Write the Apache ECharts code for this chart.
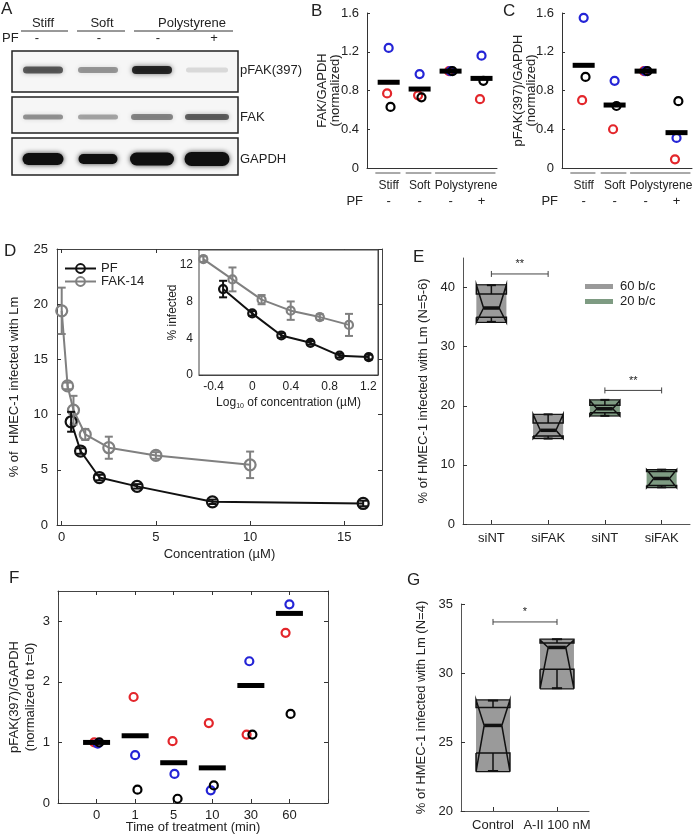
<!DOCTYPE html>
<html>
<head>
<meta charset="utf-8">
<script src="https://cdn.jsdelivr.net/npm/echarts@6/dist/echarts.min.js"></script>
<style>
html, body { margin: 0; padding: 0; background: #fff; }
#fig { width: 700px; height: 836px; }
</style>
</head>
<body>
<div id="fig"></div>
<script>
// ---------- data ----------
// A: western blot, band darkness per lane (0..1)
const blotLanes = ['Stiff', 'Soft', 'Polystyrene']
const pfSign = ['-', '-', '-', '+']
const pfakBand = [0.62, 0.38, 0.85, 0.12]
const fakBand = [0.4, 0.33, 0.45, 0.6]
const gapdhBand = [1, 1, 1, 1]

// B / C: group columns
const groupCols = [1, 2, 3, 4]
const groupNames = ['Stiff', 'Soft', 'Polystyrene']
const groupFrom = [0.57, 1.55, 2.5]
const groupTo = [1.38, 2.38, 4.45]
const groupCenter = [1, 2, 3.5]

const bRed = [0.77, 0.75, 1.0, 0.71]
const bBlue = [1.24, 0.97, 1.0, 1.16]
const bBlack = [0.63, 0.73, 1.0, 0.9]
const bMean = [0.885, 0.815, 1.0, 0.925]

const cRed = [0.70, 0.40, 1.0, 0.09]
const cBlue = [1.55, 0.90, 1.0, 0.31]
const cBlack = [0.94, 0.64, 1.0, 0.69]
const cMean = [1.06, 0.65, 1.0, 0.365]

// D: dose response
const pfConc = [0.5, 1, 2, 4, 8, 16]
const pfInf = [9.35, 6.7, 4.3, 3.5, 2.1, 1.95]
const pfErr = [0.9, 0.25, 0.25, 0.2, 0.2, 0.25]
const fak14Conc = [0, 0.3125, 0.625, 1.25, 2.5, 5, 10]
const fak14Inf = [19.4, 12.6, 10.4, 8.2, 7.0, 6.3, 5.45]
const fak14Err = [2.1, 0.3, 1.3, 0.5, 1.0, 0.3, 1.2]
const dTicks = [0, 5, 10, 15]
const insetTicks = [-0.4, 0, 0.4, 0.8, 1.2]

// E: notched boxes
const eCats = ['siNT', 'siFAK', 'siNT', 'siFAK']
const eWhiskLo = [34.2, 14.45, 18.3, 6.2]
const eNotchLo = [34.1, 14.45, 18.27, 6.15]
const eQ1 = [34.96, 14.9, 18.84, 6.5]
const eMedian = [36.54, 15.85, 19.5, 7.7]
const eQ3 = [38.9, 17.08, 20.07, 8.9]
const eNotchHi = [40.47, 18.55, 20.9, 9.2]
const eWhiskHi = [40.4, 18.55, 21.0, 9.2]
const eBrFrom = [0, 2]
const eBrTo = [1, 3]
const eBrY = [42.3, 22.6]
const eBrText = ['**', '**']

// F: time course
const fTimes = ['0', '1', '5', '10', '30', '60']
const fRed = [1.0, 1.75, 1.02, 1.32, 1.13, 2.81]
const fBlue = [0.98, 0.79, 0.48, 0.21, 2.34, 3.28]
const fBlack = [1.0, 0.22, 0.07, 0.29, 1.13, 1.47]
const fMean = [1.0, 1.11, 0.665, 0.58, 1.94, 3.13]
const fRedDx = [-0.06, -0.04, -0.03, -0.09, -0.11, -0.1]
const fBlueDx = [0.03, 0, 0.02, -0.04, -0.04, 0]
const fBlackDx = [0.07, 0.06, 0.1, 0.04, 0.04, 0.03]

// G: notched boxes
const gCats = ['Control', 'A-II 100 nM']
const gWhiskLo = [22.9, 28.9]
const gNotchLo = [22.85, 28.85]
const gQ1 = [24.2, 30.28]
const gMedian = [26.2, 31.85]
const gQ3 = [27.5, 32.17]
const gNotchHi = [28.05, 32.4]
const gWhiskHi = [28.0, 32.45]
const gBrFrom = [0]
const gBrTo = [1]
const gBrY = [33.7]
const gBrText = ['*']

// ---------- styles ----------
const ink = '#222'
const font = 'Liberation Sans, Arial, sans-serif'
const red = '#e3262b'
const blue = '#2424d6'
const gray = '#808080'

const chart = echarts.init(document.getElementById('fig'))

function tickStyle(extra) {
  return Object.assign({ show: true, inside: true, length: 4, lineStyle: { color: '#333' } }, extra || {})
}
function lineAxis(c) {
  return { show: true, onZero: false, lineStyle: { color: c || '#333', width: 1 } }
}
function lbl(extra) {
  return Object.assign({ color: ink, fontSize: 13, fontFamily: font }, extra || {})
}
function dec1(v) { return v === 0 ? '0' : v.toFixed(1) }

function openDots(name, xs, ys, dx, color, xi, yi, size) {
  return {
    type: 'scatter', name, xAxisIndex: xi, yAxisIndex: yi,
    symbol: 'circle', symbolSize: size, z: 2,
    itemStyle: { color: 'rgba(0,0,0,0)', borderColor: color, borderWidth: 2.2, opacity: 1 },
    data: xs.map((x, i) => [x + (Array.isArray(dx) ? dx[i] : dx), ys[i]])
  }
}
function meanBars(xs, ys, xi, yi, w) {
  return {
    type: 'scatter', xAxisIndex: xi, yAxisIndex: yi, symbol: 'rect',
    symbolSize: [w, 5], z: 4, itemStyle: { color: '#000', opacity: 1 },
    data: xs.map((x, i) => [x, ys[i]])
  }
}

function renderErr(params, api) {
  const x = api.value(0), y = api.value(1), e = api.value(2)
  const a = api.coord([x, y + e]), b = api.coord([x, y - e])
  const h = 4
  const s = { stroke: api.visual('color'), lineWidth: 2 }
  return {
    type: 'group', children: [
      { type: 'line', shape: { x1: a[0], y1: a[1], x2: b[0], y2: b[1] }, style: s },
      { type: 'line', shape: { x1: a[0] - h, y1: a[1], x2: a[0] + h, y2: a[1] }, style: s },
      { type: 'line', shape: { x1: b[0] - h, y1: b[1], x2: b[0] + h, y2: b[1] }, style: s }
    ]
  }
}
function errSeries(xs, ys, es, color, xi, yi) {
  return {
    type: 'custom', xAxisIndex: xi, yAxisIndex: yi, z: 3,
    itemStyle: { color }, renderItem: renderErr,
    data: xs.map((x, i) => [x, ys[i], es[i]])
  }
}
function doseLine(name, xs, ys, color, xi, yi, size) {
  return {
    type: 'line', name, xAxisIndex: xi, yAxisIndex: yi,
    symbol: 'circle', symbolSize: size, z: 2, color,
    lineStyle: { color, width: 2 },
    itemStyle: { color: 'rgba(0,0,0,0)', borderColor: color, borderWidth: 2.2 },
    data: xs.map((x, i) => [x, ys[i]])
  }
}

function renderBox(params, api) {
  const i = api.value(0)
  const y = k => api.coord([i, api.value(k)])[1]
  const c = api.coord([i, api.value(4)])[0]
  const w = api.size([1, 0])[0] * 0.53
  const L = c - w / 2, R = c + w / 2, n = w * 0.24
  const wlo = y(1), nlo = y(2), q1 = y(3), med = y(4), q3 = y(5), nhi = y(6), whi = y(7)
  const top = Math.min(nhi, q3, whi), bot = Math.max(nlo, q1, wlo)
  const ln = (x1, y1, x2, y2, lw) => ({ type: 'line', shape: { x1, y1, x2, y2 }, style: { stroke: '#111', lineWidth: lw || 1.5 } })
  const cap = w * 0.15
  return {
    type: 'group', children: [
      { type: 'rect', shape: { x: L, y: top, width: w, height: bot - top }, style: { fill: api.visual('color') } },
      {
        type: 'polyline',
        shape: { points: [[L, q1], [L, nlo], [L + n, med], [L, nhi], [L, q3], [R, q3], [R, nhi], [R - n, med], [R, nlo], [R, q1], [L, q1]] },
        style: { stroke: '#111', lineWidth: 1.5, fill: null }
      },
      ln(L, top, R, top, 1.2), ln(L, bot, R, bot, 1.2),
      ln(L + n, med, R - n, med, 3.5),
      ln(c, q3, c, whi, 1.5), ln(c - cap, whi, c + cap, whi, 2),
      ln(c, q1, c, wlo, 1.5), ln(c - cap, wlo, c + cap, wlo, 2)
    ]
  }
}
function boxSeries(name, idx, lo, nlo, q1, med, q3, nhi, hi, color, xi, yi) {
  return {
    type: 'custom', name, xAxisIndex: xi, yAxisIndex: yi, z: 2,
    itemStyle: { color }, renderItem: renderBox,
    data: idx.map(i => [i, lo[i], nlo[i], q1[i], med[i], q3[i], nhi[i], hi[i]])
  }
}
function renderBracket(labels) {
  return function (params, api) {
    const a = api.coord([api.value(0), api.value(2)])
    const b = api.coord([api.value(1), api.value(2)])
    const s = { stroke: '#444', lineWidth: 1 }
    return {
      type: 'group', children: [
        { type: 'line', shape: { x1: a[0], y1: a[1], x2: b[0], y2: b[1] }, style: s },
        { type: 'line', shape: { x1: a[0], y1: a[1] - 3, x2: a[0], y2: a[1] + 3 }, style: s },
        { type: 'line', shape: { x1: b[0], y1: b[1] - 3, x2: b[0], y2: b[1] + 3 }, style: s },
        { type: 'text', x: (a[0] + b[0]) / 2, y: a[1] - 4, style: { text: labels[params.dataIndex], fill: ink, font: '11px ' + font, align: 'center', verticalAlign: 'bottom' } }
      ]
    }
  }
}
function bracketSeries(from, to, ys, labels, xi, yi) {
  return {
    type: 'custom', xAxisIndex: xi, yAxisIndex: yi, z: 3, renderItem: renderBracket(labels),
    data: from.map((f, i) => [f, to[i], ys[i]])
  }
}

const gridBase = { containLabel: false, outerBoundsMode: 'none' }
const grids = [
  Object.assign({ left: 367, top: 13, width: 130, height: 155 }, gridBase),   // B
  Object.assign({ left: 562, top: 13, width: 130, height: 155 }, gridBase),   // C
  Object.assign({ left: 57, top: 249, width: 325, height: 276 }, gridBase),   // D
  Object.assign({ left: 199, top: 250, width: 179, height: 125, show: true, backgroundColor: '#fff', borderColor: '#444', borderWidth: 1, z: 5 }, gridBase), // inset
  Object.assign({ left: 463, top: 258, width: 227, height: 266 }, gridBase),  // E
  Object.assign({ left: 58, top: 591, width: 270, height: 212 }, gridBase),   // F
  Object.assign({ left: 461, top: 604, width: 128, height: 207 }, gridBase)   // G
]

const nameStyle = (size, lh) => ({ color: ink, fontSize: size, fontFamily: font, lineHeight: lh })
const noLabel = { show: false }
const noSplit = { show: false }
function yName(text, gap, size, lh) {
  return { name: text, nameLocation: 'middle', nameRotate: 90, nameGap: gap, nameMoveOverlap: false, nameTextStyle: nameStyle(size, lh) }
}

const xAxes = [
  { gridIndex: 0, type: 'value', min: 0.3, max: 4.5, axisLine: lineAxis(), axisTick: { show: false }, axisLabel: noLabel, splitLine: noSplit },
  { gridIndex: 1, type: 'value', min: 0.3, max: 4.5, axisLine: lineAxis(), axisTick: { show: false }, axisLabel: noLabel, splitLine: noSplit },
  {
    gridIndex: 2, type: 'value', min: -0.25, max: 17, axisLine: lineAxis('#444'),
    axisTick: tickStyle({ customValues: dTicks }),
    axisLabel: lbl({ customValues: dTicks, margin: 6 }),
    splitLine: noSplit,
    name: 'Concentration (µM)', nameLocation: 'middle', nameGap: 23, nameMoveOverlap: false, nameTextStyle: nameStyle(13)
  },
  { gridIndex: 2, type: 'value', position: 'top', min: -0.25, max: 17, axisLine: lineAxis('#444'), axisTick: tickStyle({ customValues: dTicks }), axisLabel: noLabel, splitLine: noSplit },
  {
    gridIndex: 3, type: 'value', min: -0.55, max: 1.3, axisLine: lineAxis('#444'),
    axisTick: tickStyle({ customValues: insetTicks }),
    axisLabel: lbl({ fontSize: 12, margin: 6, customValues: insetTicks, formatter: dec1 }),
    splitLine: noSplit,
    name: 'Log{sub|10} of concentration (µM)', nameLocation: 'middle', nameGap: 21, nameMoveOverlap: false,
    nameTextStyle: { color: ink, fontSize: 12, fontFamily: font, lineHeight: 14, rich: { sub: { fontSize: 7, fontFamily: font, color: ink, lineHeight: 14, verticalAlign: 'bottom', padding: [5, 0, 0, 0] } } }
  },
  { gridIndex: 3, type: 'value', position: 'top', min: -0.55, max: 1.3, axisLine: lineAxis('#444'), axisTick: tickStyle({ customValues: insetTicks }), axisLabel: noLabel, splitLine: noSplit },
  {
    gridIndex: 4, type: 'category', data: eCats, axisLine: lineAxis('#555'),
    axisTick: tickStyle({ alignWithLabel: true }), axisLabel: lbl({ margin: 8, interval: 0 }), splitLine: noSplit
  },
  {
    gridIndex: 5, type: 'value', min: 0, max: 7, interval: 1, axisLine: lineAxis('#444'),
    axisTick: tickStyle(), axisLabel: lbl({ margin: 6, formatter: v => fTimes[Math.round(v) - 1] || '' }),
    splitLine: noSplit,
    name: 'Time of treatment (min)', nameLocation: 'middle', nameGap: 18, nameMoveOverlap: false, nameTextStyle: nameStyle(13)
  },
  { gridIndex: 5, type: 'value', position: 'top', min: 0, max: 7, interval: 1, axisLine: lineAxis('#444'), axisTick: tickStyle(), axisLabel: noLabel, splitLine: noSplit },
  {
    gridIndex: 6, type: 'category', data: gCats, axisLine: lineAxis('#555'),
    axisTick: tickStyle({ alignWithLabel: true }), axisLabel: lbl({ margin: 8, interval: 0 }), splitLine: noSplit
  }
]

const yAxes = [
  Object.assign({
    gridIndex: 0, type: 'value', min: 0, max: 1.6, interval: 0.4, axisLine: lineAxis(), axisTick: tickStyle({ length: 3 }),
    axisLabel: lbl({ formatter: dec1 }), splitLine: noSplit
  }, yName('FAK/GAPDH\n(normalized)', 25, 13, 13)),
  Object.assign({
    gridIndex: 1, type: 'value', min: 0, max: 1.6, interval: 0.4, axisLine: lineAxis(), axisTick: tickStyle({ length: 3 }),
    axisLabel: lbl({ formatter: dec1 }), splitLine: noSplit
  }, yName('pFAK(397)/GAPDH\n(normalized)', 24, 13, 13)),
  Object.assign({
    gridIndex: 2, type: 'value', min: 0, max: 25, interval: 5, axisLine: lineAxis('#444'), axisTick: tickStyle(),
    axisLabel: lbl({ margin: 9 }), splitLine: noSplit
  }, yName('% of  HMEC-1 infected with Lm', 36, 13)),
  { gridIndex: 2, type: 'value', position: 'right', min: 0, max: 25, interval: 5, axisLine: lineAxis('#444'), axisTick: tickStyle(), axisLabel: noLabel, splitLine: noSplit },
  Object.assign({
    gridIndex: 3, type: 'value', min: 0, max: 13.6, interval: 4, axisLine: lineAxis('#444'), axisTick: tickStyle(),
    axisLabel: lbl({ fontSize: 12, margin: 6, showMaxLabel: false }), splitLine: noSplit
  }, yName('% infected', 20, 12)),
  { gridIndex: 3, type: 'value', position: 'right', min: 0, max: 13.6, interval: 4, axisLine: lineAxis('#444'), axisTick: tickStyle(), axisLabel: noLabel, splitLine: noSplit },
  Object.assign({
    gridIndex: 4, type: 'value', min: 0, max: 45, interval: 10, axisLine: lineAxis('#555'), axisTick: tickStyle(),
    axisLabel: lbl({ showMaxLabel: false }), splitLine: noSplit
  }, yName('% of HMEC-1 infected with Lm (N=5-6)', 33, 13)),
  Object.assign({
    gridIndex: 5, type: 'value', min: 0, max: 3.5, interval: 1, axisLine: lineAxis('#444'), axisTick: tickStyle(),
    axisLabel: lbl({ showMaxLabel: false }), splitLine: noSplit
  }, yName('pFAK(397)/GAPDH\n(normalized to t=0)', 20, 13, 16)),
  { gridIndex: 5, type: 'value', position: 'right', min: 0, max: 3.5, interval: 1, axisLine: lineAxis('#444'), axisTick: tickStyle(), axisLabel: noLabel, splitLine: noSplit },
  Object.assign({
    gridIndex: 6, type: 'value', min: 20, max: 35, interval: 5, axisLine: lineAxis('#555'), axisTick: tickStyle(),
    axisLabel: lbl(), splitLine: noSplit
  }, yName('% of HMEC-1 infected with Lm (N=4)', 33, 13))
]

const fCols = fTimes.map((t, i) => i + 1)
const insetPf = pfConc.map(Math.log10)
const fakPos = fak14Conc.filter(c => c > 0)
const insetFak = fakPos.map(Math.log10)
const insetFakInf = fak14Inf.filter((v, i) => fak14Conc[i] > 0)
const insetFakErr = fak14Err.filter((v, i) => fak14Conc[i] > 0)

const series = [
  // B
  openDots('r', groupCols, bRed, -0.05, red, 0, 0, 8),
  openDots('b', groupCols, bBlue, 0, blue, 0, 0, 8),
  openDots('k', groupCols, bBlack, 0.06, '#000', 0, 0, 8),
  meanBars(groupCols, bMean, 0, 0, 22),
  // C
  openDots('r', groupCols, cRed, -0.05, red, 1, 1, 8),
  openDots('b', groupCols, cBlue, 0, blue, 1, 1, 8),
  openDots('k', groupCols, cBlack, 0.06, '#000', 1, 1, 8),
  meanBars(groupCols, cMean, 1, 1, 22),
  // D main
  doseLine('FAK-14', fak14Conc, fak14Inf, gray, 2, 2, 11),
  errSeries(fak14Conc, fak14Inf, fak14Err, gray, 2, 2),
  doseLine('PF', pfConc, pfInf, '#111', 2, 2, 11),
  errSeries(pfConc, pfInf, pfErr, '#111', 2, 2),
  // D inset
  Object.assign(doseLine('FAK-14', insetFak, insetFakInf, gray, 4, 4, 8), { z: 6 }),
  Object.assign(errSeries(insetFak, insetFakInf, insetFakErr, gray, 4, 4), { z: 7 }),
  Object.assign(doseLine('PF', insetPf, pfInf, '#111', 4, 4, 8), { z: 6 }),
  Object.assign(errSeries(insetPf, pfInf, pfErr, '#111', 4, 4), { z: 7 }),
  // E
  boxSeries('60 b/c', [0, 1], eWhiskLo, eNotchLo, eQ1, eMedian, eQ3, eNotchHi, eWhiskHi, '#9a9a9a', 6, 6),
  boxSeries('20 b/c', [2, 3], eWhiskLo, eNotchLo, eQ1, eMedian, eQ3, eNotchHi, eWhiskHi, '#7e9b82', 6, 6),
  bracketSeries(eBrFrom, eBrTo, eBrY, eBrText, 6, 6),
  // F
  openDots('r', fCols, fRed, fRedDx, red, 7, 7, 8),
  openDots('b', fCols, fBlue, fBlueDx, blue, 7, 7, 8),
  openDots('k', fCols, fBlack, fBlackDx, '#000', 7, 7, 8),
  meanBars(fCols, fMean, 7, 7, 27),
  // G
  boxSeries('g', [0, 1], gWhiskLo, gNotchLo, gQ1, gMedian, gQ3, gNotchHi, gWhiskHi, '#9a9a9a', 9, 9),
  bracketSeries(gBrFrom, gBrTo, gBrY, gBrText, 9, 9)
]

const option = {
  animation: false,
  textStyle: { fontFamily: font },
  grid: grids,
  xAxis: xAxes,
  yAxis: yAxes,
  legend: [
    {
      data: ['PF', 'FAK-14'], left: 59, top: 257, orient: 'vertical', itemGap: 0,
      itemWidth: 31, itemHeight: 11, selectedMode: false,
      textStyle: { color: ink, fontSize: 13, fontFamily: font, lineHeight: 11 }
    },
    {
      data: ['60 b/c', '20 b/c'], left: 580, top: 275, orient: 'vertical', itemGap: 2,
      itemWidth: 28, itemHeight: 5, icon: 'rect', selectedMode: false,
      textStyle: { color: ink, fontSize: 13, fontFamily: font, padding: [0, 0, 0, 2] }
    }
  ],
  series
}
chart.setOption(option)

// ---------- annotations: blot, panel letters, group labels ----------
const g = []
const txt = (x, y, text, size, align, extra) => ({
  type: 'text', x, y, z: 10,
  style: Object.assign({ text, fill: ink, font: size + 'px ' + font, align: align || 'left', verticalAlign: 'middle' }, extra || {})
})

// panel letters
;[['A', 1, 9], ['B', 311, 11], ['C', 503, 11], ['D', 4, 251], ['E', 413, 257], ['F', 9, 578], ['G', 407, 580]]
  .forEach(p => g.push(txt(p[1], p[2], p[0], 17)))

// blot layout
const laneX = [43, 98, 152, 207]
const signX = [37, 99, 158, 214]
const hdrCenter = [43, 102, 192]
const hdrFrom = [21, 77, 134]
const hdrTo = [68, 125, 233]
blotLanes.forEach((name, k) => {
  g.push(txt(hdrCenter[k], 23, name, 13, 'center'))
  g.push({ type: 'line', shape: { x1: hdrFrom[k], y1: 31, x2: hdrTo[k], y2: 31 }, style: { stroke: '#333', lineWidth: 1 } })
})
g.push(txt(2, 38, 'PF', 13))
pfSign.forEach((s, k) => g.push(txt(signX[k], 38, s, 13, 'center')))

const strips = [
  { y: 51, h: 41, label: 'pFAK(397)', band: pfakBand, by: 70, bh: [7, 6, 8, 5], bw: [40, 40, 40, 42] },
  { y: 97, h: 36, label: 'FAK', band: fakBand, by: 117, bh: [5, 5, 6, 6], bw: [40, 40, 42, 44] },
  { y: 138, h: 37, label: 'GAPDH', band: gapdhBand, by: 159, bh: [12, 10, 13, 14], bw: [41, 39, 44, 45] }
]
strips.forEach(s => {
  g.push({ type: 'rect', z: 9, shape: { x: 12, y: s.y, width: 226, height: s.h }, style: { fill: '#f6f6f6', stroke: '#222', lineWidth: 1.5 } })
  s.band.forEach((d, k) => {
    const a = Math.min(1, d)
    g.push({
      type: 'rect', z: 10,
      shape: { x: laneX[k] - s.bw[k] / 2, y: s.by - s.bh[k] / 2, width: s.bw[k], height: s.bh[k], r: s.bh[k] / 2 },
      style: { fill: 'rgba(15,15,15,' + a + ')', shadowBlur: 5, shadowColor: 'rgba(15,15,15,' + a * 0.8 + ')' }
    })
  })
  g.push(txt(240, s.by, s.label, 13))
})

// B / C group labels beneath the axis
;[0, 1].forEach(gi => {
  const base = chart.convertToPixel({ gridIndex: gi }, [0.3, 0])
  const y0 = base[1]
  groupNames.forEach((name, k) => {
    const a = chart.convertToPixel({ gridIndex: gi }, [groupFrom[k], 0])[0]
    const b = chart.convertToPixel({ gridIndex: gi }, [groupTo[k], 0])[0]
    const c = chart.convertToPixel({ gridIndex: gi }, [groupCenter[k], 0])[0]
    g.push({ type: 'line', shape: { x1: a, y1: y0 + 5, x2: b, y2: y0 + 5 }, style: { stroke: '#555', lineWidth: 1 } })
    g.push(txt(c, y0 + 18, name, 12, 'center'))
  })
  groupCols.forEach((x, k) => {
    const c = chart.convertToPixel({ gridIndex: gi }, [x, 0])[0]
    g.push(txt(c, y0 + 33, pfSign[k], 13, 'center'))
  })
  g.push(txt(base[0] - 4, y0 + 33, 'PF', 13, 'right'))
})

chart.setOption({ graphic: g })
</script>
</body>
</html>
